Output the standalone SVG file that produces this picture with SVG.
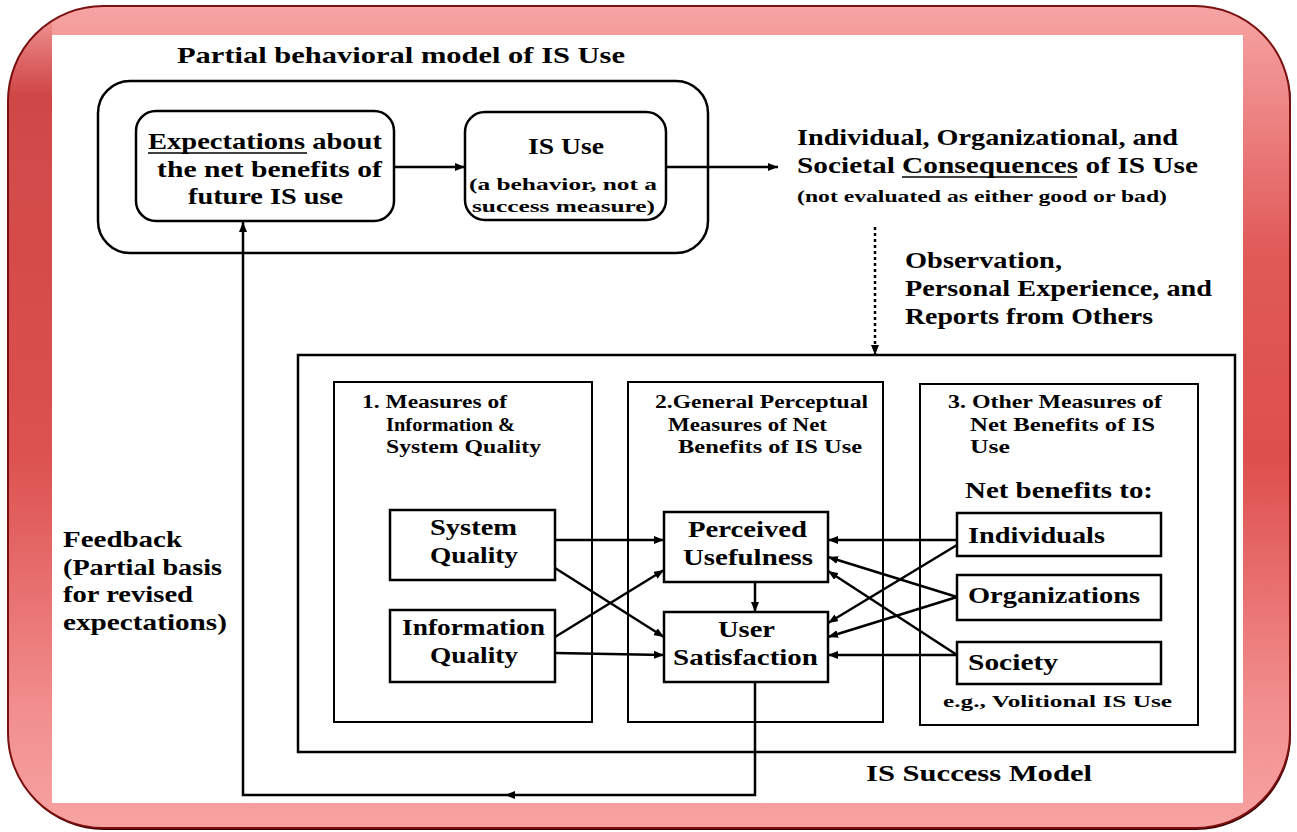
<svg xmlns="http://www.w3.org/2000/svg" width="1297" height="832" viewBox="0 0 1297 832">
  <defs>
    <linearGradient id="frameFill" x1="0" y1="0" x2="0" y2="1">
      <stop offset="0" stop-color="#f7a4a4"/>
      <stop offset="0.06" stop-color="#f29595"/>
      <stop offset="0.3" stop-color="#e05a58"/>
      <stop offset="0.55" stop-color="#dd4f4d"/>
      <stop offset="0.85" stop-color="#f28e8e"/>
      <stop offset="1" stop-color="#f7a2a2"/>
    </linearGradient>
    <linearGradient id="leftShade" x1="0" y1="0" x2="0" y2="1">
      <stop offset="0" stop-color="#c93a3a" stop-opacity="0"/>
      <stop offset="0.12" stop-color="#c93a3a" stop-opacity="0.85"/>
      <stop offset="0.5" stop-color="#d44a48" stop-opacity="0.5"/>
      <stop offset="1" stop-color="#f29090" stop-opacity="0"/>
    </linearGradient>
    <clipPath id="frameClip">
      <rect x="8" y="6" width="1282" height="822" rx="95" ry="95"/>
    </clipPath>
    <marker id="arrow" viewBox="0 0 10 8" refX="10" refY="4" markerWidth="10" markerHeight="8" markerUnits="userSpaceOnUse" orient="auto">
      <path d="M0,0 L10,4 L0,8 z" fill="#000"/>
    </marker>
    <style>
      text { font-family: "Liberation Serif", "DejaVu Serif", serif; font-weight: bold; fill: #000; }
      .lg { font-size: 22.5px; }
      .md { font-size: 18.5px; }
      .sm { font-size: 16.5px; }
      .box { fill: #fff; stroke: #000; stroke-width: 2.5; }
      .col { fill: none; stroke: #000; stroke-width: 2; }
      .conn path { fill: none; stroke: #000; stroke-width: 2.5; }
      .ul { stroke: #000; stroke-width: 1.5; }
    </style>
  </defs>

  <!-- decorative frame -->
  <g id="frame">
    <rect x="9" y="8" width="1282" height="822" rx="95" ry="95" fill="#3a0000"/>
    <rect x="8" y="6" width="1282" height="822" rx="95" ry="95" fill="url(#frameFill)"/>
    <rect x="8" y="6" width="44" height="760" fill="url(#leftShade)" clip-path="url(#frameClip)"/>
    <rect x="8" y="6" width="1282" height="822" rx="95" ry="95" fill="none" stroke="#7a1010" stroke-width="2"/>
    <rect x="52" y="35" width="1191" height="768" fill="#fff"/>
  </g>

  <!-- partial behavioral model -->
  <g id="behavioral-model">
    <text class="lg" x="177" y="63" textLength="448" lengthAdjust="spacingAndGlyphs">Partial behavioral model of IS Use</text>
    <rect x="98" y="81" width="610" height="172" rx="32" ry="32" fill="none" stroke="#000" stroke-width="2.5"/>
  </g>

  <g id="expectations">
    <rect class="box" x="136" y="111" width="258" height="110" rx="20" ry="20"/>
    <text class="lg" x="148" y="149" textLength="234" lengthAdjust="spacingAndGlyphs">Expectations about</text>
    <line class="ul" x1="148" y1="153" x2="307" y2="153"/>
    <text class="lg" x="157" y="177" textLength="225" lengthAdjust="spacingAndGlyphs">the net benefits of</text>
    <text class="lg" x="188" y="204" textLength="155" lengthAdjust="spacingAndGlyphs">future IS use</text>
  </g>

  <g id="is-use">
    <rect class="box" x="465" y="112" width="201" height="108" rx="20" ry="20"/>
    <text class="lg" x="528" y="154" textLength="76" lengthAdjust="spacingAndGlyphs">IS Use</text>
    <text class="sm" x="469" y="190" textLength="188" lengthAdjust="spacingAndGlyphs">(a behavior, not a</text>
    <text class="sm" x="472" y="212" textLength="183" lengthAdjust="spacingAndGlyphs">success measure)</text>
  </g>

  <g id="consequences">
    <text class="lg" x="797" y="145" textLength="381" lengthAdjust="spacingAndGlyphs">Individual, Organizational, and</text>
    <text class="lg" x="797" y="173" textLength="401" lengthAdjust="spacingAndGlyphs">Societal Consequences of IS Use</text>
    <line class="ul" x1="902" y1="177" x2="1077" y2="177"/>
    <text class="sm" x="797" y="202" textLength="370" lengthAdjust="spacingAndGlyphs">(not evaluated as either good or bad)</text>
  </g>

  <g id="observation">
    <text class="lg" x="905" y="268" textLength="157" lengthAdjust="spacingAndGlyphs">Observation,</text>
    <text class="lg" x="905" y="296" textLength="307" lengthAdjust="spacingAndGlyphs">Personal Experience, and</text>
    <text class="lg" x="905" y="324" textLength="248" lengthAdjust="spacingAndGlyphs">Reports from Others</text>
  </g>

  <g id="feedback-label">
    <text class="lg" x="63" y="547" textLength="119" lengthAdjust="spacingAndGlyphs">Feedback</text>
    <text class="lg" x="63" y="575" textLength="159" lengthAdjust="spacingAndGlyphs">(Partial basis</text>
    <text class="lg" x="63" y="602" textLength="130" lengthAdjust="spacingAndGlyphs">for revised</text>
    <text class="lg" x="63" y="630" textLength="164" lengthAdjust="spacingAndGlyphs">expectations)</text>
  </g>

  <!-- IS success model -->
  <g id="is-success-model">
    <rect x="298" y="355" width="937" height="397" fill="none" stroke="#000" stroke-width="2.5"/>
    <text class="lg" x="866" y="781" textLength="226" lengthAdjust="spacingAndGlyphs">IS Success Model</text>
  </g>

  <g id="quality-measures">
    <rect class="col" x="334" y="382" width="258" height="340"/>
    <text class="md" x="362" y="408" textLength="145" lengthAdjust="spacingAndGlyphs">1. Measures of</text>
    <text class="md" x="386" y="431" textLength="129" lengthAdjust="spacingAndGlyphs">Information &amp;</text>
    <text class="md" x="386" y="453" textLength="155" lengthAdjust="spacingAndGlyphs">System Quality</text>
  </g>

  <g id="perceptual-measures">
    <rect class="col" x="628" y="382" width="255" height="340"/>
    <text class="md" x="655" y="408" textLength="213" lengthAdjust="spacingAndGlyphs">2.General Perceptual</text>
    <text class="md" x="668" y="431" textLength="159" lengthAdjust="spacingAndGlyphs">Measures of Net</text>
    <text class="md" x="678" y="453" textLength="184" lengthAdjust="spacingAndGlyphs">Benefits of IS Use</text>
  </g>

  <g id="other-measures">
    <rect class="col" x="920" y="384" width="278" height="341"/>
    <text class="md" x="948" y="408" textLength="214" lengthAdjust="spacingAndGlyphs">3. Other Measures of</text>
    <text class="md" x="970" y="431" textLength="185" lengthAdjust="spacingAndGlyphs">Net Benefits of IS</text>
    <text class="md" x="970" y="453" textLength="40" lengthAdjust="spacingAndGlyphs">Use</text>
    <text class="lg" x="965" y="498" textLength="188" lengthAdjust="spacingAndGlyphs">Net benefits to:</text>
    <text class="sm" x="943" y="707" textLength="229" lengthAdjust="spacingAndGlyphs">e.g., Volitional IS Use</text>
  </g>

  <g id="system-quality">
    <rect class="box" x="390" y="510" width="165" height="70"/>
    <text class="lg" x="430" y="535" textLength="87" lengthAdjust="spacingAndGlyphs">System</text>
    <text class="lg" x="430" y="563" textLength="88" lengthAdjust="spacingAndGlyphs">Quality</text>
  </g>

  <g id="information-quality">
    <rect class="box" x="390" y="610" width="165" height="72"/>
    <text class="lg" x="402" y="635" textLength="143" lengthAdjust="spacingAndGlyphs">Information</text>
    <text class="lg" x="430" y="663" textLength="88" lengthAdjust="spacingAndGlyphs">Quality</text>
  </g>

  <g id="perceived-usefulness">
    <rect class="box" x="664" y="512" width="164" height="70"/>
    <text class="lg" x="688" y="537" textLength="119" lengthAdjust="spacingAndGlyphs">Perceived</text>
    <text class="lg" x="683" y="565" textLength="130" lengthAdjust="spacingAndGlyphs">Usefulness</text>
  </g>

  <g id="user-satisfaction">
    <rect class="box" x="664" y="612" width="164" height="70"/>
    <text class="lg" x="718" y="637" textLength="57" lengthAdjust="spacingAndGlyphs">User</text>
    <text class="lg" x="673" y="665" textLength="145" lengthAdjust="spacingAndGlyphs">Satisfaction</text>
  </g>

  <g id="individuals">
    <rect class="box" x="957" y="513" width="204" height="43"/>
    <text class="lg" x="968" y="543" textLength="137" lengthAdjust="spacingAndGlyphs">Individuals</text>
  </g>

  <g id="organizations">
    <rect class="box" x="957" y="575" width="204" height="45"/>
    <text class="lg" x="968" y="603" textLength="172" lengthAdjust="spacingAndGlyphs">Organizations</text>
  </g>

  <g id="society">
    <rect class="box" x="957" y="642" width="204" height="42"/>
    <text class="lg" x="968" y="670" textLength="90" lengthAdjust="spacingAndGlyphs">Society</text>
  </g>

  <!-- connectors -->
  <g id="connectors" class="conn">
    <path d="M394,167 L465,167" marker-end="url(#arrow)"/>
    <path d="M666,167 L778,167" marker-end="url(#arrow)"/>
    <path d="M875,227 L875,355" stroke-dasharray="3,3" marker-end="url(#arrow)"/>
    <path d="M555,540 L664,540" marker-end="url(#arrow)"/>
    <path d="M555,568 L664,637" marker-end="url(#arrow)"/>
    <path d="M555,637 L664,570" marker-end="url(#arrow)"/>
    <path d="M555,653 L664,655" marker-end="url(#arrow)"/>
    <path d="M755,582 L755,612" marker-end="url(#arrow)"/>
    <path d="M957,540 L828,540" marker-end="url(#arrow)"/>
    <path d="M957,545 L828,623" marker-end="url(#arrow)"/>
    <path d="M957,597 L828,557" marker-end="url(#arrow)"/>
    <path d="M957,597 L828,637" marker-end="url(#arrow)"/>
    <path d="M957,655 L828,571" marker-end="url(#arrow)"/>
    <path d="M957,655 L828,655" marker-end="url(#arrow)"/>
    <path d="M755,682 L755,795 L505,795" marker-end="url(#arrow)"/>
    <path d="M505,795 L243,795 L243,222" marker-end="url(#arrow)"/>
  </g>
</svg>
